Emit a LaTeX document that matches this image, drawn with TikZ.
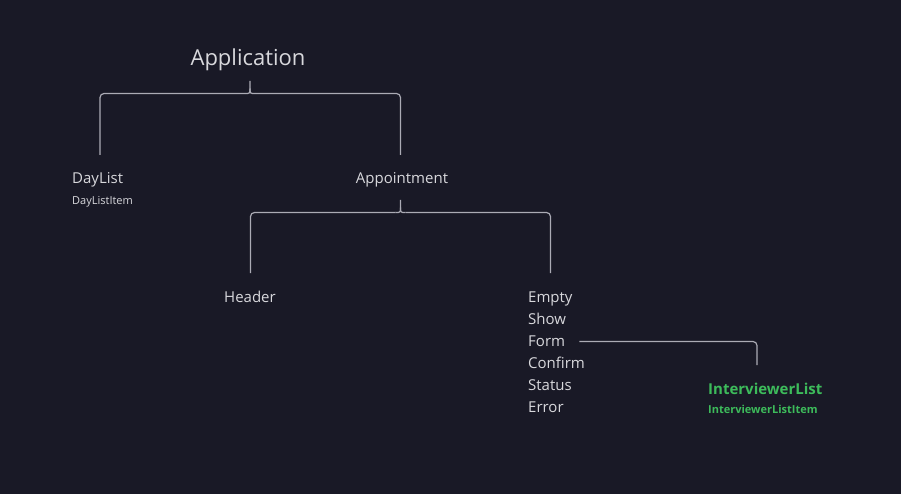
\documentclass[tikz,border=0pt]{standalone}
\usepackage{fontspec}
\setmainfont{Open Sans}
\definecolor{bg}{HTML}{191926}
\definecolor{ink}{HTML}{D8D8DC}
\definecolor{wire}{HTML}{ABABB5}
\definecolor{leaf}{HTML}{3DBB5B}
\begin{document}
\begin{tikzpicture}[x=1pt,y=-1pt,
  label/.style={text=ink,inner sep=0pt,font=\fontsize{15}{18}\selectfont},
  small/.style={text=ink,inner sep=0pt,font=\fontsize{11}{13}\selectfont},
  hot/.style={text=leaf,inner sep=0pt,font=\bfseries\fontsize{15}{18}\selectfont},
  hotsmall/.style={text=leaf,inner sep=0pt,font=\bfseries\fontsize{11}{13}\selectfont},
  link/.style={draw=wire,line width=1.2pt,line join=round},
]
\fill[bg] (0,0) rectangle (901,494);
\useasboundingbox (0,0) rectangle (901,494);

% component names
\node[text=ink,inner sep=0pt,font=\fontsize{22}{26}\selectfont,anchor=base] (app) at (248,66) {Application};
\node[label,anchor=base west] (daylist) at (72,184) {DayList};
\node[small,anchor=base west] (daylistitem) at (72,204.5) {DayListItem};
\node[label,anchor=base] (appt) at (402,184) {Appointment};
\node[label,anchor=base] (header) at (250,302) {Header};
\node[label,anchor=base west] (empty) at (528,302) {Empty};
\node[label,anchor=base west] (show) at (528,324) {Show};
\node[label,anchor=base west] (form) at (528,346) {Form};
\node[label,anchor=base west] (confirm) at (528,368) {Confirm};
\node[label,anchor=base west] (status) at (528,390) {Status};
\node[label,anchor=base west] (error) at (528,412) {Error};
\node[hot,anchor=base west] (ilist) at (708,394) {InterviewerList};
\node[hotsmall,anchor=base west] (ilistitem) at (708,413.5) {InterviewerListItem};

% bracket ends
\coordinate (apptip) at (250,81);
\coordinate (dltop) at (100,155);
\coordinate (aptop) at (400.5,155);
\coordinate (aptip) at (400.5,200);
\coordinate (hdtop) at (250.5,273);
\coordinate (emtop) at (550.5,273);
\coordinate (ilend) at (757,365);

% Application -> DayList / Appointment
\draw[link,rounded corners=4] (dltop) -- (100,93.5) -- (245,93.5);
\draw[link,rounded corners=4] (aptop) -- (400.5,93.5) -- (255,93.5);
\draw[link] (245,93.5) .. controls (250,93.5) .. (250,88.5) -- (apptip);
\draw[link] (255,93.5) .. controls (250,93.5) .. (250,88.5);

% Appointment -> Header / modes
\draw[link,rounded corners=4] (hdtop) -- (250.5,212.5) -- (395.5,212.5);
\draw[link,rounded corners=4] (emtop) -- (550.5,212.5) -- (405.5,212.5);
\draw[link] (395.5,212.5) .. controls (400.5,212.5) .. (400.5,207.5) -- (aptip);
\draw[link] (405.5,212.5) .. controls (400.5,212.5) .. (400.5,207.5);

% Form -> InterviewerList
\draw[link,rounded corners=4] ([xshift=14pt]form.base east |- 0,341.5) -- (757,341.5) -- (ilend);
\end{tikzpicture}
\end{document}
